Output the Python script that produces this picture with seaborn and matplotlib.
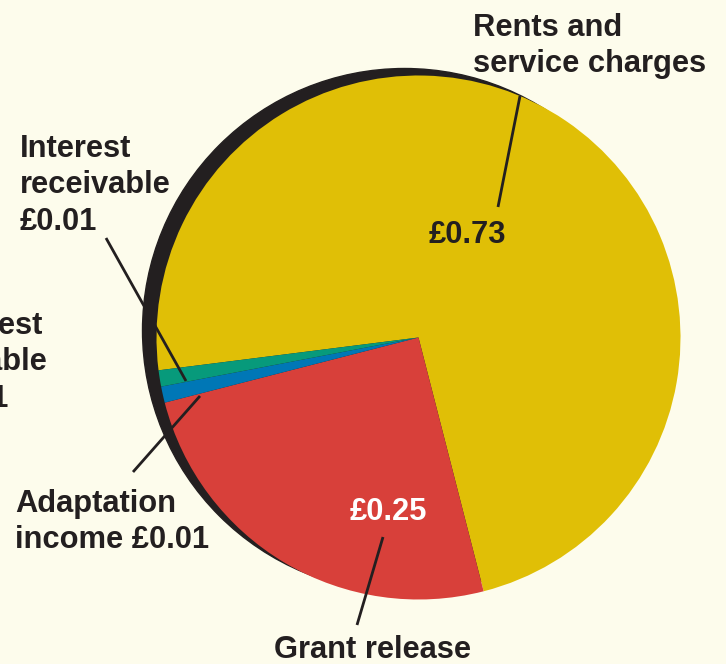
import matplotlib.pyplot as plt
import seaborn as sns

# Data
labels = ['Rents and\nservice charges', 'Grant release', 'Adaptation\nincome £0.01', 'Interest\nreceivable\n£0.01']
values = [0.73, 0.25, 0.01, 0.01]
value_labels = ['£0.73', '£0.25']
colors = ['#E0BF06', '#D8403A', '#0077B6', '#079A7B']
cut_label = 'Interest\npayable\n£0.01'

BG = '#FDFCEC'
DARK = '#231F20'

sns.set_theme(style='white')
plt.rcParams['font.family'] = ['Liberation Sans', 'DejaVu Sans']

W, H = 726, 664
fig = plt.figure(figsize=(W / 100, H / 100), dpi=100, facecolor=BG)
ax = fig.add_axes([0, 0, 1, 1])
ax.set_facecolor(BG)

cx, cy, r = 418.5, H - 337.5, 262

# dark shadow behind the pie, pushed up and to the left
shadow = plt.Circle((cx - 14, cy + 7), r, color=DARK, zorder=1)
ax.add_patch(shadow)

ax.pie(values, colors=colors, center=(cx, cy), radius=r, startangle=187.2,
       counterclock=False, wedgeprops=dict(linewidth=0, zorder=2), frame=True)
ax.set_xlim(0, W)
ax.set_ylim(0, H)
ax.set_aspect('equal')
ax.axis('off')

txt = dict(fontsize=22.2, fontweight='bold', color=DARK, linespacing=1.28)

def px(x, y):
    return x, H - y

# leader lines
lines = [((520, 96), (498, 207)),
         ((106, 238), (186, 381)),
         ((200, 396), (133, 472)),
         ((383, 537), (357, 625))]
for (x0, y0), (x1, y1) in lines:
    ax.plot([x0, x1], [H - y0, H - y1], color=DARK, lw=2, zorder=4,
            solid_capstyle='butt')

ax.text(*px(473, 13), labels[0], ha='left', va='top', **txt)
ax.text(*px(467, 235), value_labels[0], ha='center', va='center', **txt)
ax.text(*px(20, 134), labels[3], ha='left', va='top', **txt)
# this label runs off the left edge, as in the original layout
ax.text(*px(-68, 311), cut_label, ha='left', va='top', **txt)
ax.text(*px(15, 489), labels[2], ha='left', va='top', **txt)
ax.text(*px(388, 512), value_labels[1], ha='center', va='center',
        **{**txt, 'color': 'white'})
ax.text(*px(373, 650), labels[1], ha='center', va='center', **txt)

fig.savefig('out.png', dpi=100, facecolor=BG)
